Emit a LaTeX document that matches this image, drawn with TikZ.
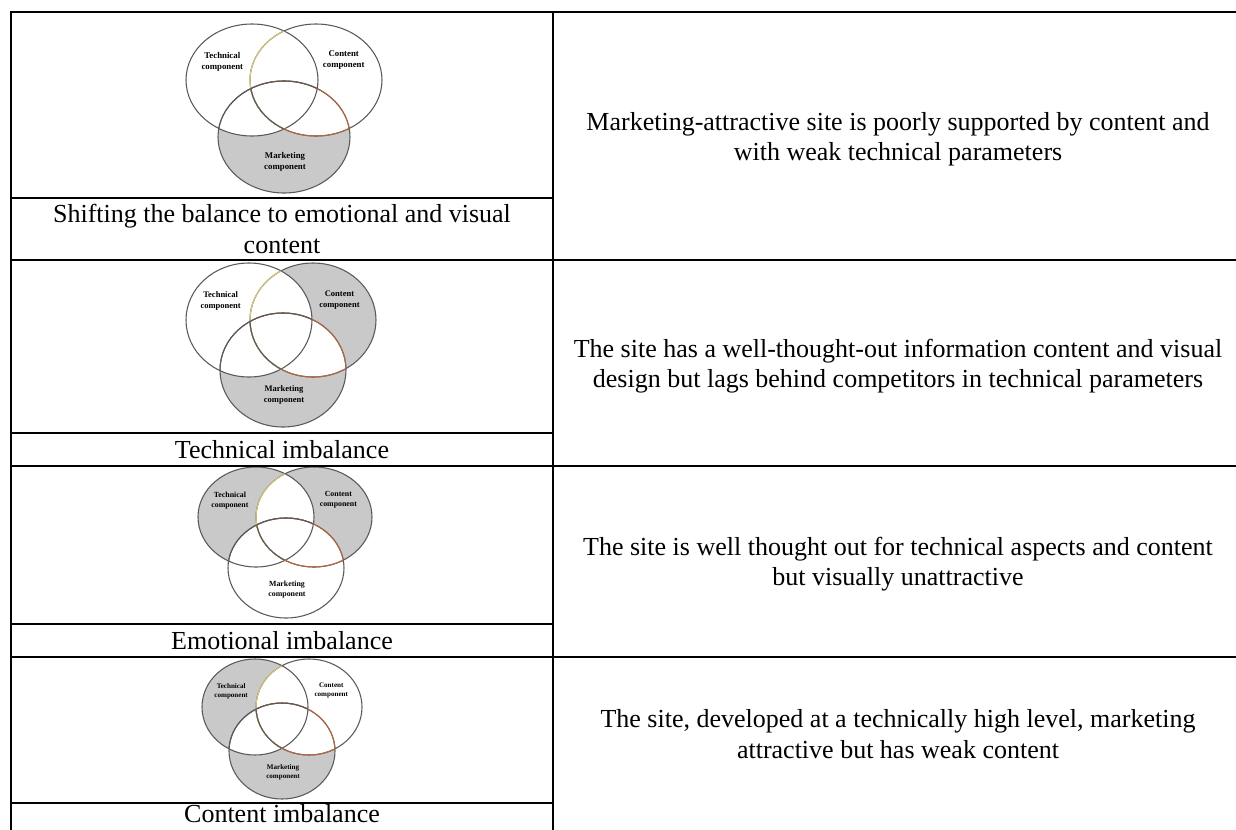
\documentclass[tikz,border=0pt]{standalone}
\usepackage{fontspec}
\setmainfont{Liberation Serif}
\definecolor{lensyellow}{HTML}{D8C878}
\definecolor{lensbrown}{HTML}{B0663F}

\tikzset{
  rule/.style={black, line width=1.3pt, line cap=rect},
  ring/.style={draw=black!65, line width=0.8pt},
  shaded/.style={fill=black!21},
  lab/.style={align=center, inner sep=0pt},
  desc/.style={align=center, inner sep=0pt, font=\fontsize{19.5}{22.8}\selectfont},
}

\begin{document}
\begin{tikzpicture}[x=0.75pt, y=-0.75pt]
\useasboundingbox (0,0) rectangle (1236,829);

% venn diagrams, one per row
\foreach \i/\xt/\xc/\xm/\yu/\yl/\rx/\ry/\fs/\fl/\sT/\sC/\sM in {
 1/252/316/284/80/137/66/56/6.6/8.4/0/0/1,
 2/249/313/283/320/370/63/57/6.4/8.2/0/1/1,
 3/256/314/286/517/568/58/50/5.9/7.6/1/1/0,
 4/255/309/282/707/751/53/48/5.3/7.0/1/0/1} {
 \begin{scope}[x radius=\rx, y radius=\ry]
  \coordinate (T\i) at (\xt,\yu);
  \coordinate (C\i) at (\xc,\yu);
  \coordinate (M\i) at (\xm,\yl);
  \ifnum\sT=1 \fill[shaded] (T\i) circle[]; \fi
  \ifnum\sC=1 \fill[shaded] (C\i) circle[]; \fi
  \ifnum\sM=1 \fill[shaded] (M\i) circle[]; \fi
  % overlaps stay white
  \begin{scope}
   \clip (T\i) circle[];
   \fill[white] (C\i) circle[] (M\i) circle[];
  \end{scope}
  \begin{scope}
   \clip (C\i) circle[];
   \fill[white] (M\i) circle[];
  \end{scope}
  \draw[ring] (T\i) circle[] (C\i) circle[] (M\i) circle[];
  % tinted arcs
  \begin{scope}
   \clip (C\i) circle[];
   \draw[ring, draw=lensbrown] (M\i) circle[];
  \end{scope}
  \begin{scope}
   \clip (M\i) circle[];
   \draw[ring, draw=lensbrown] (C\i) circle[];
  \end{scope}
  \begin{scope}
   \clip (T\i) circle[];
   \draw[ring, draw=lensyellow] (C\i) circle[];
   \draw[ring] (M\i) circle[];
  \end{scope}
  \begin{scope}
   \clip (T\i) circle[];
   \clip (M\i) circle[];
   \draw[ring] (C\i) circle[];
  \end{scope}
  \node[lab, font=\bfseries\fontsize{\fs}{\fl}\selectfont] (tl\i) at ({\xt-0.45*\rx},{\yu-0.33*\ry}) {Technical\\component};
  \node[lab, font=\bfseries\fontsize{\fs}{\fl}\selectfont] (cl\i) at ({\xc+0.42*\rx},{\yu-0.35*\ry}) {Content\\component};
  \node[lab, font=\bfseries\fontsize{\fs}{\fl}\selectfont] (ml\i) at ({\xm+1},{\yl+0.44*\ry}) {Marketing\\component};
 \end{scope}
}

% table rules
\draw[rule] (11,12) -- (1236,12);
\draw[rule] (11,12) -- (11,829);
\draw[rule] (553,12) -- (553,829);
\foreach \y in {260,466,657} {
 \draw[rule] (11,\y) -- (1236,\y);
}
\foreach \y in {198,433,624,803} {
 \draw[rule] (11,\y) -- (553,\y);
}

% captions under the diagrams
\node[desc] (cap1) at (282,229) {Shifting the balance to emotional and visual\\content};
\node[desc] (cap2) at (282,449.5) {Technical imbalance};
\node[desc] (cap3) at (282,640.5) {Emotional imbalance};
\node[desc, anchor=base] (cap4) at (282,822) {Content imbalance};

% descriptions
\node[desc] (d1) at (898,139) {Marketing-attractive site is poorly supported by content and\\with weak technical parameters};
\node[desc] (d2) at (898,366) {The site has a well-thought-out information content and visual\\design but lags behind competitors in technical parameters};
\node[desc] (d3) at (898,564) {The site is well thought out for technical aspects and content\\but visually unattractive};
\node[desc] (d4) at (898,734) {The site, developed at a technically high level, marketing\\attractive but has weak content};
\end{tikzpicture}
\end{document}
